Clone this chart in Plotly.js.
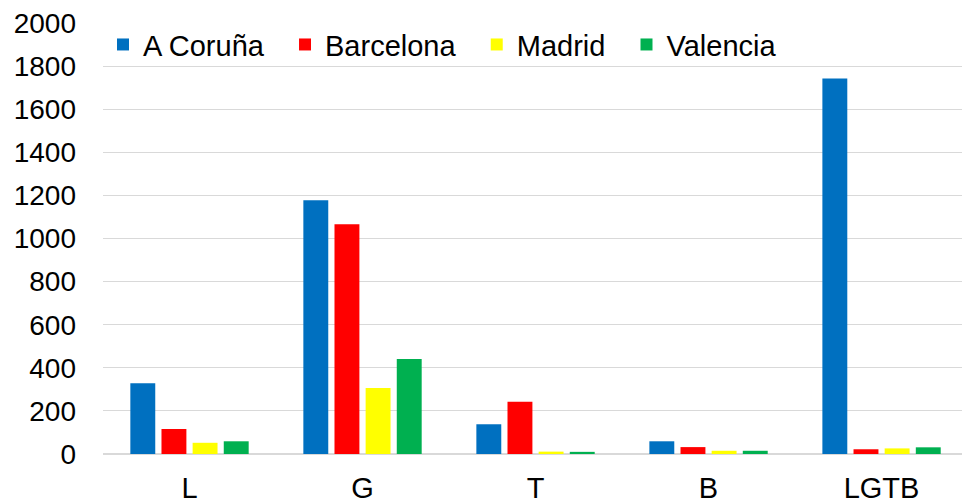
<!DOCTYPE html>
<html>
<head>
<meta charset="utf-8">
<script src="https://cdn.plot.ly/plotly-3.0.1.min.js"></script>
<style>
  html, body { margin: 0; padding: 0; background: #fff; overflow: hidden; }
  #chart { width: 962px; height: 504px; }
</style>
</head>
<body>
<div id="chart"></div>
<script>
// categories on the x axis
var categories = ['L', 'G', 'T', 'B', 'LGTB'];

// one array per city
var coruna    = [328, 1177, 138, 59, 1742];
var barcelona = [116, 1066, 243, 32, 22];
var madrid    = [52, 306, 11, 15, 26];
var valencia  = [59, 441, 10, 15, 31];

var yTicks = [0, 200, 400, 600, 800, 1000, 1200, 1400, 1600, 1800, 2000];

// trailing no-break spaces widen the gap between legend entries
var pad = '\u00a0\u00a0';

function bar(name, values, color) {
    return {
        x: categories,
        y: values,
        type: 'bar',
        name: name + pad,
        marker: { color: color }
    };
}

var data = [
    bar('A Coruña', coruna, '#0070C0'),
    bar('Barcelona', barcelona, '#FF0000'),
    bar('Madrid', madrid, '#FFFF00'),
    bar('Valencia', valencia, '#00B050')
];

var layout = {
    width: 962,
    height: 504,
    margin: { l: 103, r: 0, t: 23, b: 50 },
    paper_bgcolor: '#ffffff',
    plot_bgcolor: '#ffffff',
    font: { family: 'Liberation Sans, Arial, sans-serif', size: 28, color: '#000000' },
    barmode: 'group',
    bargap: 0.28,
    bargroupgap: 0.2,
    showlegend: true,
    legend: {
        orientation: 'h',
        x: 0,
        xanchor: 'left',
        y: 1.009,
        yanchor: 'top',
        bgcolor: 'rgba(0,0,0,0)',
        font: { size: 29 },
        itemwidth: 30
    },
    xaxis: {
        type: 'category',
        range: [-0.5, 4.465],
        showgrid: false,
        showline: false,
        ticks: '',
        tickfont: { size: 29 },
        ticklabelstandoff: 14,
        fixedrange: true
    },
    yaxis: {
        range: [0, 2000],
        tickvals: yTicks,
        showgrid: true,
        gridcolor: '#d9d9d9',
        gridwidth: 1,
        zeroline: true,
        zerolinecolor: '#d9d9d9',
        zerolinewidth: 1.5,
        showline: false,
        ticks: '',
        ticklabelstandoff: 26,
        fixedrange: true
    }
};

Plotly.newPlot('chart', data, layout, { displayModeBar: false, staticPlot: true });
</script>
</body>
</html>
